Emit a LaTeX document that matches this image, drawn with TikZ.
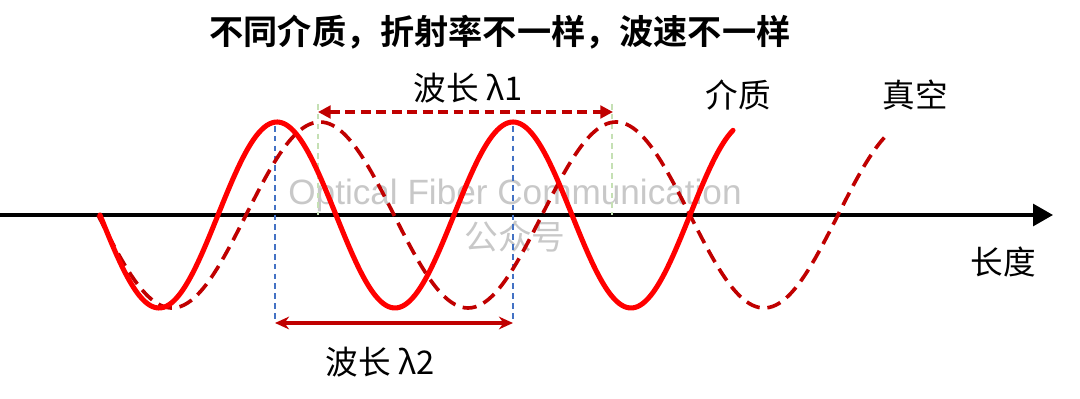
\documentclass[tikz,border=0pt]{standalone}
\usepackage{fontspec}
\setmainfont{Noto Sans CJK SC}[BoldFont={Noto Sans CJK SC Bold}]
\newfontfamily\wmfont{Liberation Sans}
\newfontfamily\wmcjk{Noto Sans CJK SC}
\usetikzlibrary{arrows.meta}
\definecolor{darkred}{RGB}{192,0,0}
\definecolor{guideblue}{RGB}{68,114,196}
\definecolor{guidegreen}{RGB}{197,224,180}
\definecolor{wmgray}{RGB}{200,200,200}
\tikzset{
  lbl/.style={inner sep=0pt, font=\fontsize{23.2}{26}\selectfont},
  wm/.style={inner sep=0pt, text=wmgray, font=\wmfont\fontsize{25}{28}\selectfont},
  medium/.style={red, line width=3.6pt, line cap=round},
  vacuum/.style={darkred, line width=2.6pt, dash pattern=on 10pt off 5.5pt},
  blueguide/.style={guideblue, line width=1.1pt, dash pattern=on 4pt off 3pt},
  greenguide/.style={guidegreen, line width=1.1pt, dash pattern=on 4pt off 3pt}
}
\begin{document}
\begin{tikzpicture}[x=0.025cm,y=-0.025cm]
    \useasboundingbox (0,0) rectangle (1080,399);
    % watermark
    \node[wm] (wm1) at (515,195) {Optical Fiber Communication};
    \node[wm,font=\wmcjk\fontsize{24}{28}\selectfont] (wm2) at (515,237) {公众号};
    % axis
    \coordinate (o) at (0,215);
    \coordinate (tip) at (1053,215);
    \draw[line width=2.2pt,-{Triangle[length=0.5cm,width=0.55cm]}] (o) -- (tip);
    \node[lbl] (len) at (1003,262) {长度};
    % guide lines
    \foreach \x/\n in {275/b1,513/b2}{
      \coordinate (\n top) at (\x,126);
      \coordinate (\n bot) at (\x,320);
      \draw[blueguide] (\n top) -- (\n bot);
    }
    \foreach \x/\n in {318/g1,612/g2}{
      \coordinate (\n top) at (\x,104);
      \coordinate (\n bot) at (\x,215);
      \draw[greenguide] (\n top) -- (\n bot);
    }
    % waves
    \draw[vacuum] plot[domain=98:888,samples=240,smooth] (\x,{215+93*sin((\x-98)/296*360)});
    \draw[medium] plot[domain=100:733,samples=240,smooth] (\x,{215+93*sin((\x-100)/236*360)});
    % wavelengths
    \coordinate (l1a) at (318,112);
    \coordinate (l1b) at (613,112);
    \draw[darkred,line width=2.2pt,dash pattern=on 7pt off 4pt,
      {Triangle[length=9pt,width=9pt]}-{Triangle[length=9pt,width=9pt]}] (l1a) -- (l1b);
    \node[lbl] (lam1) at (468,88) {波长 λ1};
    \coordinate (l2a) at (275,323);
    \coordinate (l2b) at (513,323);
    \draw[darkred,line width=2.2pt,
      {Stealth[length=10pt,width=9pt]}-{Stealth[length=10pt,width=9pt]}] (l2a) -- (l2b);
    \node[lbl] (lam2) at (380,362) {波长 λ2};
    % labels
    \node[lbl] (med) at (738,95) {介质};
    \node[lbl] (vac) at (915,95) {真空};
    \node[lbl,font=\bfseries\fontsize{24.3}{28}\selectfont] (title) at (500,32) {不同介质，折射率不一样，波速不一样};
  \end{tikzpicture}
\end{document}
